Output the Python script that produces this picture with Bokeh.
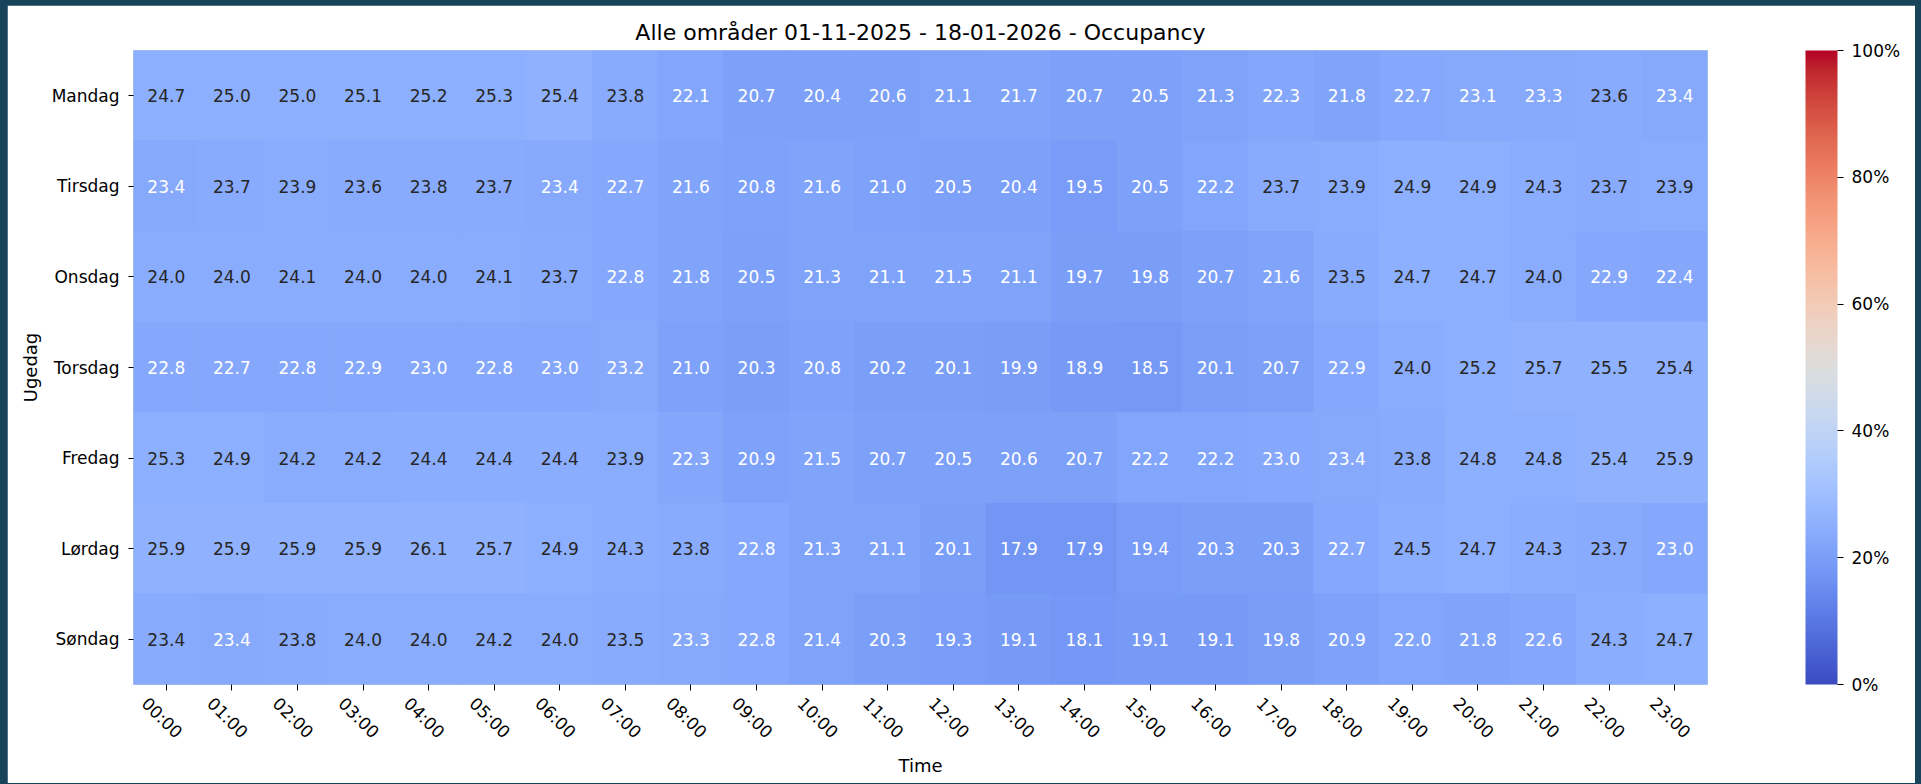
import numpy as np
from math import pi
from bokeh.plotting import figure
from bokeh.models import (ColumnDataSource, FactorRange, Range1d, LinearAxis, FixedTicker,
                          LinearColorMapper, ColorBar, PrintfTickFormatter)
from bokeh.transform import transform
from bokeh.core.properties import value
from bokeh.embed import file_html
from bokeh.resources import INLINE

# ---------------- data ----------------
TITLE = "Alle områder 01-11-2025 - 18-01-2026 - Occupancy"
DAYS = ["Mandag", "Tirsdag", "Onsdag", "Torsdag", "Fredag", "Lørdag", "Søndag"]
HOURS = ["00:00", "01:00", "02:00", "03:00", "04:00", "05:00", "06:00", "07:00",
         "08:00", "09:00", "10:00", "11:00", "12:00", "13:00", "14:00", "15:00",
         "16:00", "17:00", "18:00", "19:00", "20:00", "21:00", "22:00", "23:00"]

MANDAG = [24.7, 25.0, 25.0, 25.1, 25.2, 25.3, 25.4, 23.8, 22.1, 20.7, 20.4, 20.6,
          21.1, 21.7, 20.7, 20.5, 21.3, 22.3, 21.8, 22.7, 23.1, 23.3, 23.6, 23.4]
TIRSDAG = [23.4, 23.7, 23.9, 23.6, 23.8, 23.7, 23.4, 22.7, 21.6, 20.8, 21.6, 21.0,
           20.5, 20.4, 19.5, 20.5, 22.2, 23.7, 23.9, 24.9, 24.9, 24.3, 23.7, 23.9]
ONSDAG = [24.0, 24.0, 24.1, 24.0, 24.0, 24.1, 23.7, 22.8, 21.8, 20.5, 21.3, 21.1,
          21.5, 21.1, 19.7, 19.8, 20.7, 21.6, 23.5, 24.7, 24.7, 24.0, 22.9, 22.4]
TORSDAG = [22.8, 22.7, 22.8, 22.9, 23.0, 22.8, 23.0, 23.2, 21.0, 20.3, 20.8, 20.2,
           20.1, 19.9, 18.9, 18.5, 20.1, 20.7, 22.9, 24.0, 25.2, 25.7, 25.5, 25.4]
FREDAG = [25.3, 24.9, 24.2, 24.2, 24.4, 24.4, 24.4, 23.9, 22.3, 20.9, 21.5, 20.7,
          20.5, 20.6, 20.7, 22.2, 22.2, 23.0, 23.4, 23.8, 24.8, 24.8, 25.4, 25.9]
LORDAG = [25.9, 25.9, 25.9, 25.9, 26.1, 25.7, 24.9, 24.3, 23.8, 22.8, 21.3, 21.1,
          20.1, 17.9, 17.9, 19.4, 20.3, 20.3, 22.7, 24.5, 24.7, 24.3, 23.7, 23.0]
SONDAG = [23.44, 23.4, 23.8, 24.0, 24.0, 24.2, 24.0, 23.5, 23.3, 22.8, 21.4, 20.3,
          19.3, 19.1, 18.1, 19.1, 19.1, 19.8, 20.9, 22.0, 21.8, 22.6, 24.3, 24.7]
ROWS = [MANDAG, TIRSDAG, ONSDAG, TORSDAG, FREDAG, LORDAG, SONDAG]

CBAR_TICKS = [0, 20, 40, 60, 80, 100]
VMIN, VMAX = 0, 100

# ---------------- coolwarm colormap (matplotlib segment data) ----------------
_pos = np.linspace(0, 1, 33)
_r = [0.2298057, 0.26623388, 0.30386891, 0.342804478, 0.38301334, 0.424369608, 0.46666708,
      0.509635204, 0.552953156, 0.596262162, 0.639176211, 0.681291281, 0.722193294,
      0.761464949, 0.798691636, 0.833466556, 0.865395197, 0.897787179, 0.924127593,
      0.944468518, 0.958852946, 0.96732803, 0.969954137, 0.966811177, 0.958003065,
      0.943660866, 0.923944917, 0.89904617, 0.869186849, 0.834620542, 0.795631745,
      0.752534934, 0.705673158]
_g = [0.298717966, 0.353094838, 0.406535296, 0.458757618, 0.50941904, 0.558148092,
      0.604562568, 0.648280772, 0.688929332, 0.726149107, 0.759599947, 0.788964712,
      0.813952739, 0.834302879, 0.849786142, 0.860207984, 0.865410021, 0.848937047,
      0.827384882, 0.800927443, 0.769767752, 0.734132809, 0.694266682, 0.650421156,
      0.602842431, 0.551750968, 0.49730856, 0.439559467, 0.378313092, 0.312874446,
      0.24128379, 0.157246067, 0.01555616]
_b = [0.753683153, 0.801466763, 0.84495867, 0.883725899, 0.917387822, 0.945619588,
      0.968154911, 0.98478814, 0.995375608, 0.999836203, 0.998151185, 0.990363227,
      0.976574709, 0.956945269, 0.931688648, 0.901068838, 0.865395561, 0.820880546,
      0.774508472, 0.726736146, 0.678007945, 0.628751763, 0.579375448, 0.530263762,
      0.481775914, 0.434243684, 0.387970225, 0.343229596, 0.300267182, 0.259301199,
      0.220525627, 0.184115123, 0.150232812]
_x = np.linspace(0, 1, 256)
LUT = np.stack([np.interp(_x, _pos, _r), np.interp(_x, _pos, _g), np.interp(_x, _pos, _b)], axis=1)
PALETTE = ["#%02x%02x%02x" % tuple(int(round(c * 255)) for c in rgb) for rgb in LUT]


def text_color(v):
    idx = min(int(np.floor((v - VMIN) / (VMAX - VMIN) * 256)), 255)
    rgb = LUT[idx]
    lin = np.where(rgb <= 0.03928, rgb / 12.92, ((rgb + 0.055) / 1.055) ** 2.4)
    lum = float(lin.dot([0.2126, 0.7152, 0.0722]))
    return "#262626" if lum > 0.408 else "#ffffff"


xs, ys, vals, labels, tcs = [], [], [], [], []
for day, row in zip(DAYS, ROWS):
    for i, v in enumerate(row):
        xs.append(i + 0.5)
        ys.append(day)
        vals.append(v)
        labels.append("%.1f" % v)
        tcs.append(text_color(v))
src = ColumnDataSource(dict(x=xs, day=ys, val=vals, label=labels, tc=tcs))

FONT = "DejaVu Sans"

p = figure(width=1908, height=778, x_range=Range1d(0, 24),
           y_range=FactorRange(factors=DAYS[::-1], range_padding=0),
           x_axis_location=None, toolbar_location=None, output_backend="svg",
           min_border_left=126, min_border_right=208, min_border_top=45, min_border_bottom=99,
           title=TITLE)
p.outline_line_color = None
p.grid.visible = False
p.background_fill_color = "white"
p.border_fill_color = "white"

p.title.text_font = FONT
p.title.text_font_size = "22px"
p.title.text_font_style = "normal"
p.title.text_color = "black"
p.title.align = "center"
p.title.standoff = 11

mapper = LinearColorMapper(palette=PALETTE, low=VMIN, high=VMAX)

p.rect(x="x", y="day", width=1, height=1, source=src,
       fill_color=transform("val", mapper), line_color=transform("val", mapper), line_width=1)
p.text(x="x", y="day", text="label", source=src, text_color="tc",
       text_font=value(FONT), text_font_size=value("17px"),
       text_align="center", text_baseline="middle")

# y axis
ya = p.yaxis[0]
ya.axis_label = "Ugedag"
ya.axis_label_text_font = FONT
ya.axis_label_text_font_size = "18px"
ya.axis_label_text_font_style = "normal"
ya.axis_label_text_color = "black"
ya.axis_label_standoff = 8
ya.major_label_text_font = FONT
ya.major_label_text_font_size = "17px"
ya.major_label_text_color = "black"
ya.major_label_orientation = "horizontal"
ya.major_label_standoff = 9
ya.major_tick_out = 5
ya.major_tick_in = 0
ya.major_tick_line_color = "black"
ya.axis_line_color = None

# x axis: visible tick marks (minor ticks) at cell centres, rotated labels
# (major ticks, hidden marks) shifted so that each label is centred on its tick
SHIFT = 0.33
centres = [i + 0.5 for i in range(24)]
lab_pos = [c - SHIFT for c in centres]
xa = LinearAxis(ticker=FixedTicker(ticks=lab_pos, minor_ticks=centres),
                major_label_overrides={pos: HOURS[i] for i, pos in enumerate(lab_pos)},
                major_label_orientation=-pi / 4, major_label_standoff=10,
                major_label_text_font=FONT, major_label_text_font_size="17px",
                major_label_text_color="black",
                major_tick_out=6, major_tick_in=0, major_tick_line_color=None,
                minor_tick_out=6, minor_tick_in=0, minor_tick_line_color="black",
                minor_tick_line_width=1, axis_line_color=None,
                axis_label="Time", axis_label_text_font=FONT, axis_label_text_font_size="18px",
                axis_label_text_font_style="normal", axis_label_text_color="black",
                axis_label_standoff=3)
p.add_layout(xa, "below")

cb = ColorBar(color_mapper=mapper, ticker=FixedTicker(ticks=CBAR_TICKS),
              formatter=PrintfTickFormatter(format="%d%%"),
              width=32, height=634, location=(1672, 0), margin=0, padding=0,
              orientation="vertical", major_tick_in=0, major_tick_out=6,
              major_tick_line_color="black", label_standoff=8,
              major_label_text_font=FONT, major_label_text_font_size="17px",
              major_label_text_color="black", bar_line_color=None,
              background_fill_color=None, border_line_color=None)
p.add_layout(cb)

html = file_html(p, INLINE)
html = html.replace("</head>",
                    "<style>body{background-color:#17435b; padding:5px 0 0 7px;}</style></head>", 1)
open("out.html", "w").write(html)
